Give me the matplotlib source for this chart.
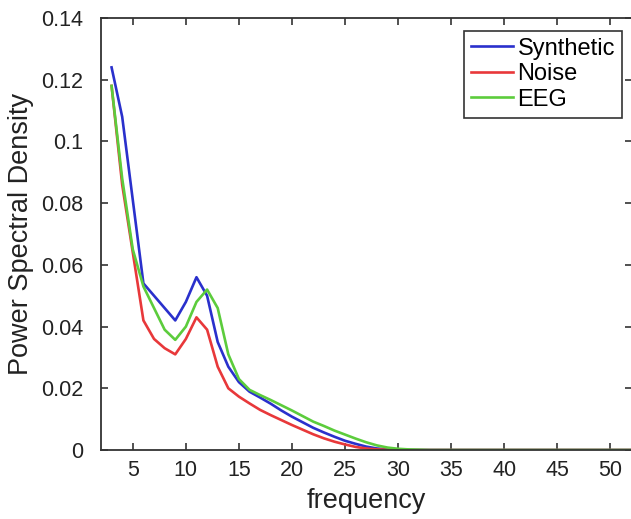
import matplotlib
matplotlib.use("Agg")
import matplotlib.pyplot as plt
from matplotlib.ticker import FuncFormatter

plt.rcParams['font.family'] = ['Liberation Sans', 'DejaVu Sans']

freq = list(range(3, 53))
synthetic = [0.124, 0.108, 0.081, 0.054, 0.050, 0.046, 0.042, 0.048, 0.056, 0.050,
             0.035, 0.027, 0.022, 0.0189, 0.0170, 0.0150, 0.0128, 0.0108, 0.0090, 0.0072,
             0.0057, 0.0043, 0.0030, 0.0020, 0.0011, 0.0005, 0.0002, 0.0001] + [0.0] * 22
noise = [0.118, 0.086, 0.064, 0.042, 0.036, 0.033, 0.031, 0.036, 0.043, 0.039,
         0.027, 0.020, 0.0173, 0.0151, 0.0130, 0.0113, 0.0097, 0.0081, 0.0066, 0.0051,
         0.0038, 0.0027, 0.0018, 0.0010, 0.0005, 0.0002, 0.0001, 0.0] + [0.0] * 22
eeg = [0.118, 0.088, 0.065, 0.053, 0.046, 0.039, 0.0357, 0.040, 0.048, 0.052,
       0.046, 0.031, 0.023, 0.0195, 0.0178, 0.0162, 0.0145, 0.0128, 0.0110, 0.0092,
       0.0078, 0.0063, 0.0050, 0.0037, 0.0025, 0.0015, 0.0008, 0.0004, 0.0002, 0.0001] + [0.0] * 20

xticks = [5, 10, 15, 20, 25, 30, 35, 40, 45, 50]
yticks = [0, 0.02, 0.04, 0.06, 0.08, 0.10, 0.12, 0.14]

fig = plt.figure(figsize=(6.31, 5.19), dpi=100)
ax = fig.add_axes([0.160, 0.1329, 0.841, 0.8324])

ax.plot(freq, synthetic, color='#2a30cc', lw=1.9, label='Synthetic')
ax.plot(freq, noise, color='#e8383a', lw=1.9, label='Noise')
ax.plot(freq, eeg, color='#5ccc3c', lw=1.9, label='EEG')

ax.set_xlim(2, 52)
ax.set_ylim(0, 0.14)
ax.set_xticks(xticks)
ax.set_yticks(yticks)
ax.yaxis.set_major_formatter(FuncFormatter(lambda v, p: ('%g' % round(v, 4))))
ax.tick_params(direction='in', length=5, width=1.2, color='#333333',
               labelsize=15.5, top=True, right=True, labelcolor='#222222')
ax.tick_params(axis='x', pad=7)
ax.tick_params(axis='y', pad=13)
for s in ax.spines.values():
    s.set_color('#333333')
    s.set_linewidth(1.3)

ax.set_xlabel('frequency', fontsize=19.5, color='#222222', labelpad=5)
ax.set_ylabel('Power Spectral Density', fontsize=19.5, color='#222222', labelpad=5)

leg = ax.legend(loc='upper right', bbox_to_anchor=(0.982, 0.971), fontsize=17,
                handlelength=1.75, handletextpad=0.2, labelspacing=0.15,
                borderpad=0.3, borderaxespad=0.0, fancybox=False, framealpha=1,
                edgecolor='#333333')
leg.get_frame().set_linewidth(1.2)

fig.savefig('out.png', dpi=100)
